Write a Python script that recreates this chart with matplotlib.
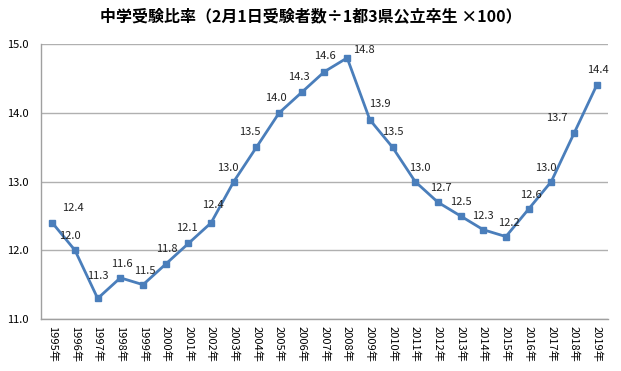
import numpy as np
import matplotlib
matplotlib.use('Agg')
from matplotlib import pyplot as plt

plt.rcParams['font.family'] = ['Noto Sans CJK JP', 'DejaVu Sans']

years = [str(y) + '年' for y in range(1995, 2020)]
ratio = [12.4, 12.0, 11.3, 11.6, 11.5, 11.8, 12.1, 12.4, 13.0, 13.5, 14.0, 14.3, 14.6, 14.8,
         13.9, 13.5, 13.0, 12.7, 12.5, 12.3, 12.2, 12.6, 13.0, 13.7, 14.4]
yticks = [11.0, 12.0, 13.0, 14.0, 15.0]

# label offsets in points (dx, dy), placed by hand like the original
label_off = [(15, 11), (-4, 10), (0, 16), (1, 10), (1, 10), (1, 11), (-1, 11), (1, 13),
             (-4, 10), (-5, 11), (-2, 11), (-2, 11), (0, 11), (12, 6), (7, 11), (0, 11),
             (3, 10), (2, 10), (0, 10), (0, 10), (2, 10), (2, 10), (-4, 10), (-12, 11), (1, 11)]

fig = plt.figure(figsize=(6.21, 3.71), dpi=100)
ax = fig.add_axes([0.066, 0.140, 0.913, 0.741])

x = np.arange(len(years))
ax.plot(x, ratio, color='#4a7ebb', lw=2.0, marker='s', ms=4.5, zorder=3)
for i, v in enumerate(ratio):
    dx, dy = label_off[i]
    ax.annotate(f'{v:.1f}', (i, v), xytext=(dx, dy), textcoords='offset points',
                ha='center', va='center', fontsize=8, color='#222222')

ax.set_xlim(-0.5, len(years) - 0.5)
ax.set_ylim(11.0, 15.0)
ax.set_yticks(yticks)
ax.set_yticklabels([f'{t:.1f}' for t in yticks], fontsize=8)
ax.set_xticks(x)
ax.set_xticklabels(years, rotation=270, fontsize=8)
ax.tick_params(length=0, pad=5)
ax.tick_params(axis='y', pad=9)
ax.grid(axis='y', color='#b0b0b0', lw=1.0)
ax.set_axisbelow(True)
for s in ['top', 'right']:
    ax.spines[s].set_visible(False)
for s in ['left', 'bottom']:
    ax.spines[s].set_color('#a0a0a0')
    ax.spines[s].set_linewidth(1.0)

fig.text(0.5, 0.955, '中学受験比率（2月1日受験者数÷1都3県公立卒生 ×100）', ha='center', va='center',
         fontsize=11.5, fontweight='bold')

fig.savefig('out.png', dpi=100)
